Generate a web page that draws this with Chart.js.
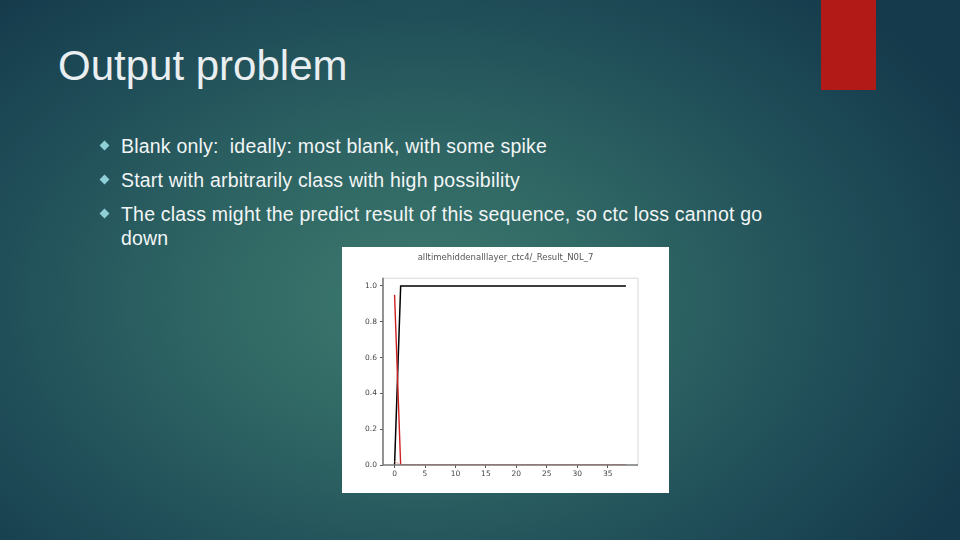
<!DOCTYPE html>
<html>
<head>
<meta charset="utf-8">
<script src="https://cdn.jsdelivr.net/npm/chart.js@4.4.1/dist/chart.umd.min.js"></script>
<style>
  html, body { margin:0; padding:0; }
  body {
    width:960px; height:540px; overflow:hidden; position:relative;
    background: radial-gradient(ellipse 620px 420px at 420px 300px, #3d7a6e 0%, #2f6664 35%, #1f4d58 70%, #153a4b 100%);
    font-family: "Liberation Sans", Arial, sans-serif;
  }
  .redbar { position:absolute; left:821px; top:0; width:55px; height:90px; background:#b11a17; }
  .title { position:absolute; left:58px; top:45px; font-size:42px; color:#e9eef0; line-height:1; }
  .bullet { position:absolute; left:121px; font-size:19.5px; letter-spacing:0.2px; color:#f2f5f5; line-height:24px; white-space:nowrap; }
  .dia { position:absolute; width:7px; height:7px; background:#8fcfd6; transform:rotate(45deg); }
  .box { position:absolute; left:342px; top:247px; width:327px; height:246px; background:#fff; }
  .box canvas { display:block; }
</style>
</head>
<body>
<div class="redbar"></div>
<div class="title">Output problem</div>
<div class="dia" style="left:101px; top:142px;"></div>
<div class="bullet" style="top:134px;">Blank only:&nbsp; ideally: most blank, with some spike</div>
<div class="dia" style="left:101px; top:176px;"></div>
<div class="bullet" style="top:168px;">Start with arbitrarily class with high possibility</div>
<div class="dia" style="left:101px; top:210px;"></div>
<div class="bullet" style="top:202px;">The class might the predict result of this sequence, so ctc loss cannot go<br>down</div>
<div class="box"><canvas id="c" width="327" height="246"></canvas></div>
<script>
const chartTitle = "alltimehiddenalllayer_ctc4/_Result_N0L_7";
const steps = [0,1,2,3,4,5,6,7,8,9,10,11,12,13,14,15,16,17,18,19,20,21,22,23,24,25,26,27,28,29,30,31,32,33,34,35,36,37,38];
const blankProb = [0,1,1,1,1,1,1,1,1,1,1,1,1,1,1,1,1,1,1,1,1,1,1,1,1,1,1,1,1,1,1,1,1,1,1,1,1,1,1];
const classProb = [0.95,0,0,0,0,0,0,0,0,0,0,0,0,0,0,0,0,0,0,0,0,0,0,0,0,0,0,0,0,0,0,0,0,0,0,0,0,0,0];
const otherProb = [0.02,0,0,0,0,0,0,0,0,0,0,0,0,0,0,0,0,0,0,0,0,0,0,0,0,0,0,0,0,0,0,0,0,0,0,0,0,0,0];
const xTicks = [0,5,10,15,20,25,30,35];
const yTicks = [0,0.2,0.4,0.6,0.8,1.0];

const toXY = arr => arr.map((v,i) => ({x: steps[i], y: v}));

const frame = {
  id:'frame',
  afterDatasetsDraw(chart){
    const {ctx, chartArea:a} = chart;
    ctx.save();
    ctx.strokeStyle = '#d8d8d8'; ctx.lineWidth = 1;
    ctx.beginPath();
    ctx.moveTo(a.left, a.top+0.5); ctx.lineTo(a.right+0.5, a.top+0.5); ctx.lineTo(a.right+0.5, a.bottom);
    ctx.stroke();
    ctx.strokeStyle = '#777'; ctx.lineWidth = 1.6;
    ctx.beginPath();
    ctx.moveTo(a.left, a.top); ctx.lineTo(a.left, a.bottom); ctx.lineTo(a.right+0.5, a.bottom);
    ctx.stroke();
    ctx.restore();
  }
};

const tickFont = {size:7.5, family:'"DejaVu Sans", sans-serif'};

new Chart(document.getElementById('c'), {
  type:'line',
  data:{
    datasets:[
      {data: toXY(otherProb), borderColor:'#e8a8a8', borderWidth:1, pointRadius:0, tension:0},
      {data: toXY(classProb), borderColor:'#cc1f1f', borderWidth:1.4, pointRadius:0, tension:0},
      {data: toXY(blankProb), borderColor:'#000000', borderWidth:1.5, pointRadius:0, tension:0}
    ]
  },
  options:{
    responsive:false, animation:false,
    layout:{padding:0},
    plugins:{
      legend:{display:false}, tooltip:{enabled:false},
      title:{display:true, text:chartTitle, color:'#555', font:{size:8.5, weight:'normal', family:'"DejaVu Sans", sans-serif'}, padding:{top:6, bottom:14.5}}
    },
    scales:{
      x:{
        type:'linear', min:-1.9, max:39.9,
        afterBuildTicks(s){ s.ticks = xTicks.map(v => ({value:v})); },
        afterFit(s){ s.height = 28; },
        grid:{display:true, drawOnChartArea:false, drawTicks:true, tickLength:3, color:'#555'},
        border:{display:false},
        ticks:{color:'#444', font:tickFont, padding:2, maxRotation:0, autoSkip:false}
      },
      y:{
        min:0, max:1.046,
        afterBuildTicks(s){ s.ticks = yTicks.map(v => ({value:v})); },
        afterFit(s){ s.width = 41; },
        grid:{display:true, drawOnChartArea:false, drawTicks:true, tickLength:3, color:'#555'},
        border:{display:false},
        ticks:{color:'#444', font:tickFont, padding:3, callback:v => v.toFixed(1)}
      },
      yRight:{
        position:'right', min:0, max:1.046,
        afterFit(s){ s.width = 31.5; },
        grid:{display:false}, border:{display:false},
        ticks:{display:false}
      }
    }
  },
  plugins:[frame]
});
</script>
</body>
</html>
